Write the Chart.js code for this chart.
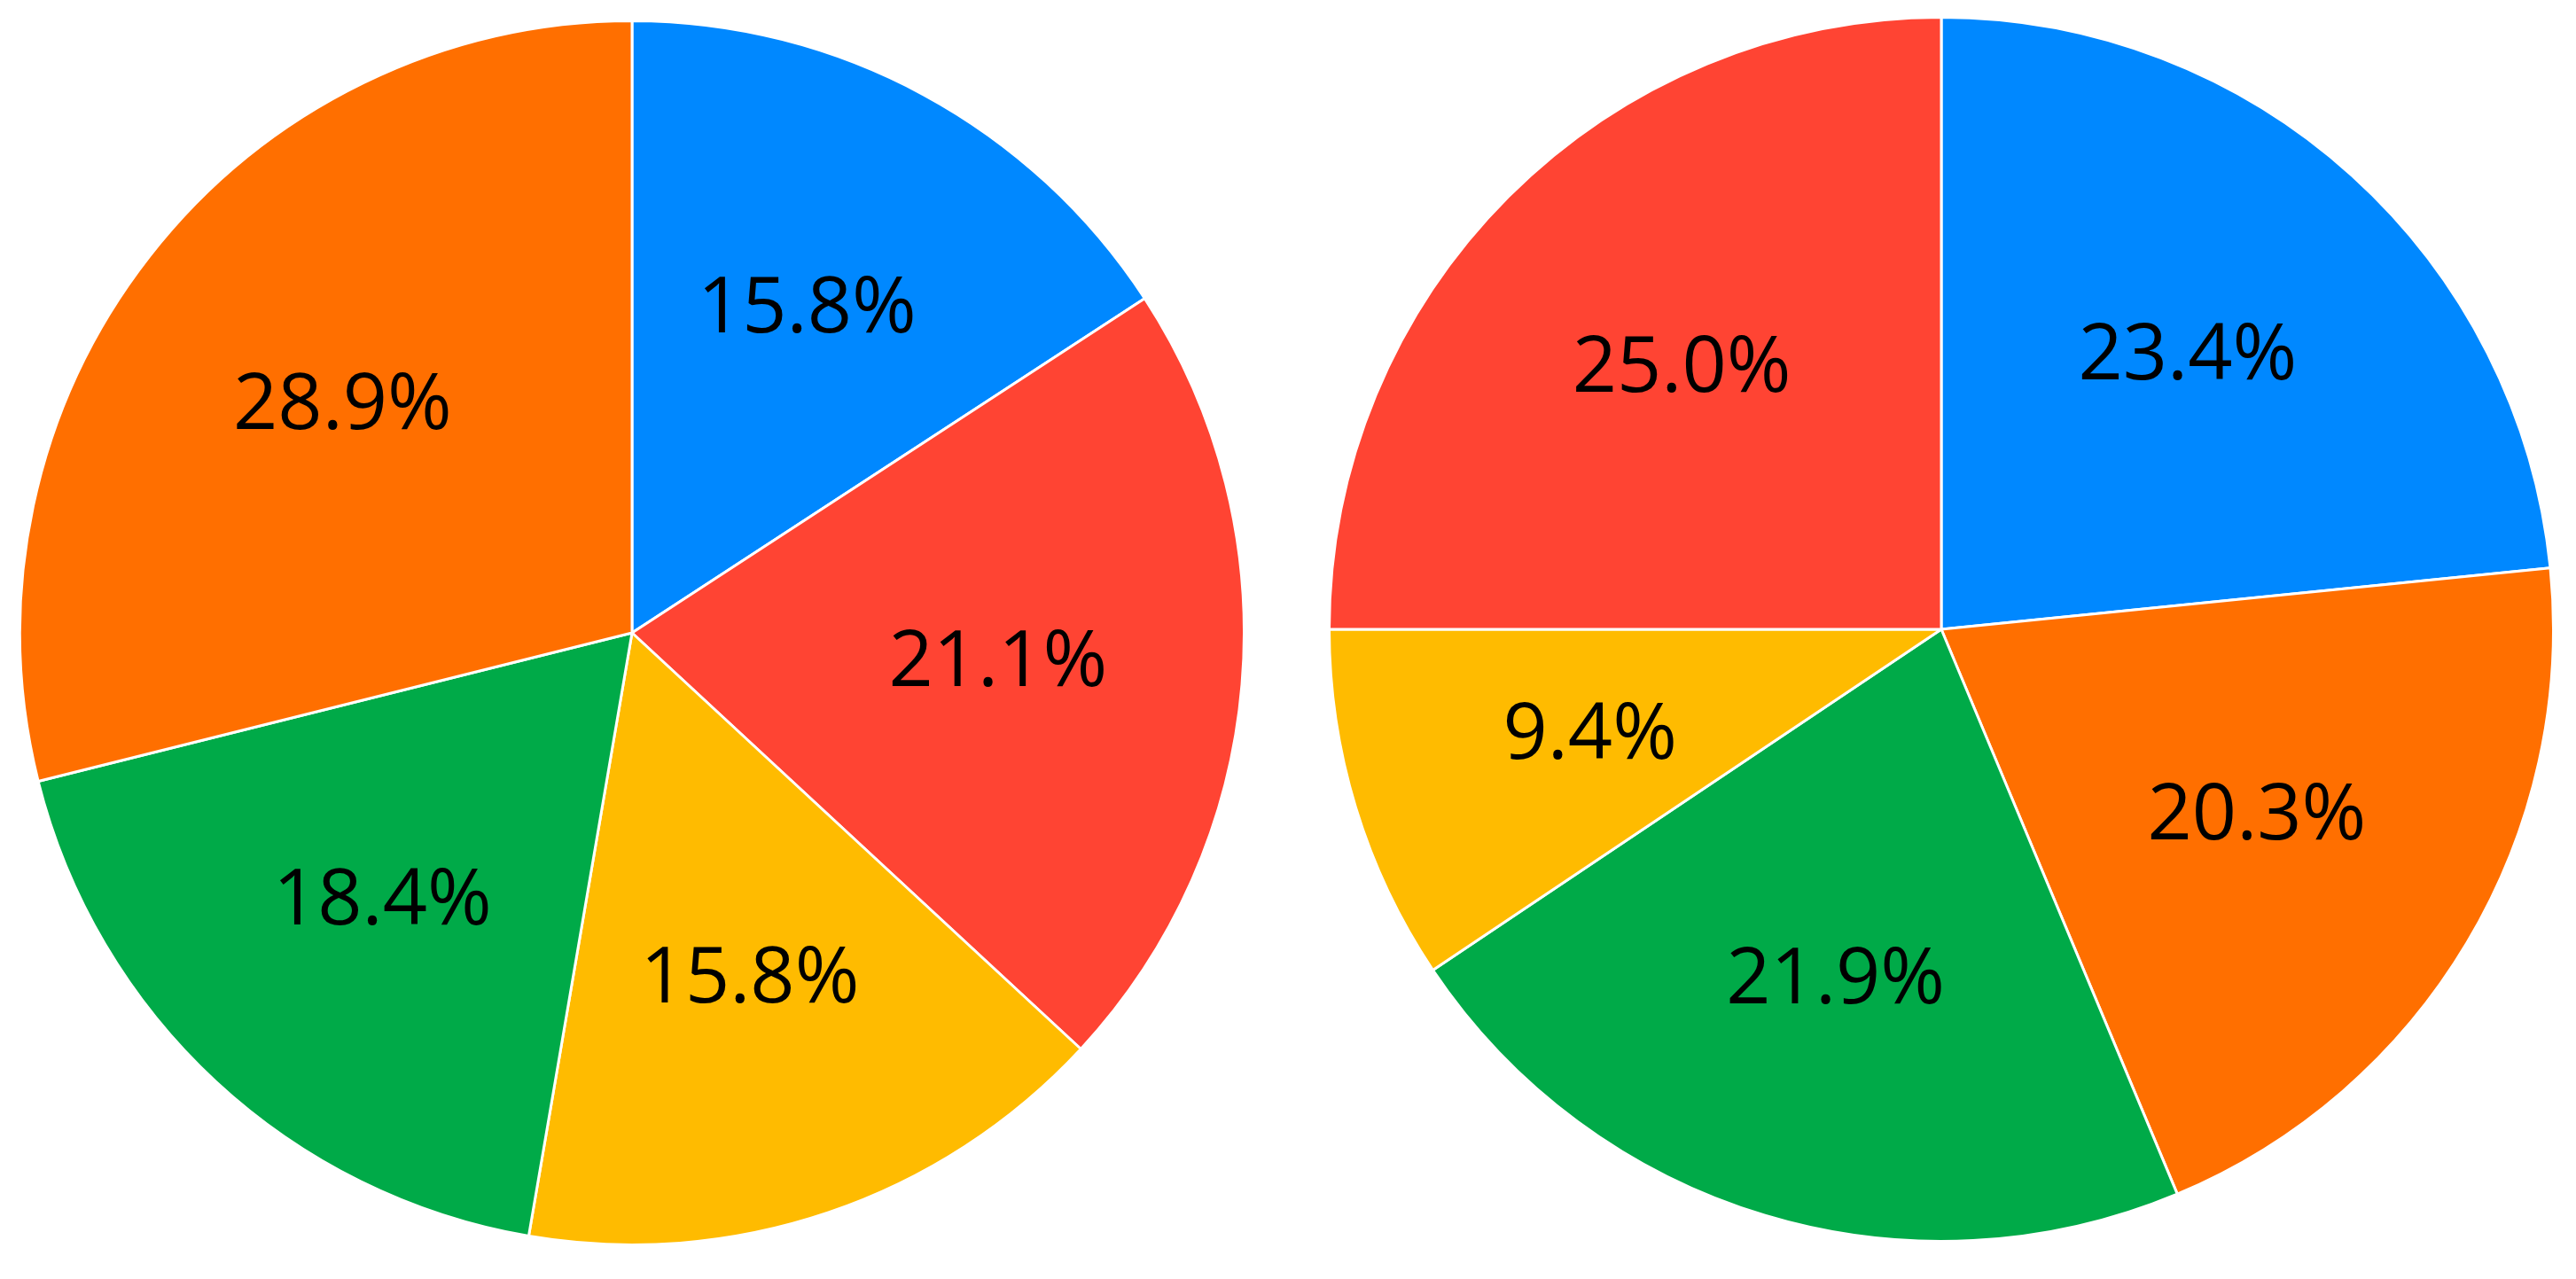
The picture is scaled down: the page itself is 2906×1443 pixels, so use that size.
<!DOCTYPE html>
<html>
<head>
<meta charset="utf-8">
<script src="https://cdn.jsdelivr.net/npm/chart.js@4"></script>
<style>
  body { margin: 0; background: #fff; width: 2906px; height: 1443px; overflow: hidden; }
  .pie { position: absolute; width: 1384px; height: 1384px; }
  #left { left: 21px; top: 22px; }
  #right { left: 1498px; top: 18px; }
</style>
</head>
<body>
<div class="pie" id="left"><canvas id="c1"></canvas></div>
<div class="pie" id="right"><canvas id="c2"></canvas></div>
<script>
const leftLabels = ['Blue', 'Red', 'Yellow', 'Green', 'Orange'];
const leftValues = [15.8, 21.1, 15.8, 18.4, 28.9];
const leftColors = ['#0088FF', '#FF4433', '#FFBB00', '#00AA48', '#FF6F00'];

const rightLabels = ['Blue', 'Orange', 'Green', 'Yellow', 'Red'];
const rightValues = [23.4, 20.3, 21.9, 9.4, 25.0];
const rightColors = ['#0088FF', '#FF6F00', '#00AA48', '#FFBB00', '#FF4433'];

const sliceLabels = {
    id: 'sliceLabels',
    afterDatasetsDraw(chart) {
        const ctx = chart.ctx;
        const meta = chart.getDatasetMeta(0);
        const values = chart.data.datasets[0].data;
        ctx.save();
        ctx.font = '88px "Open Sans", "Noto Sans", sans-serif';
        ctx.fillStyle = '#000';
        ctx.textAlign = 'center';
        ctx.textBaseline = 'middle';
        meta.data.forEach((arc, i) => {
            const mid = (arc.startAngle + arc.endAngle) / 2;
            const r = arc.outerRadius * 0.6;
            ctx.fillText(values[i].toFixed(1) + '%', arc.x + Math.cos(mid) * r, arc.y + Math.sin(mid) * r);
        });
        ctx.restore();
    }
};

const makePie = (id, labels, values, colors) => new Chart(document.getElementById(id), {
    type: 'pie',
    data: {
        labels: labels,
        datasets: [{
            data: values,
            backgroundColor: colors,
            borderColor: '#ffffff',
            borderWidth: 3
        }]
    },
    options: {
        responsive: true,
        maintainAspectRatio: false,
        animation: false,
        layout: { padding: 0 },
        plugins: {
            legend: { display: false },
            tooltip: { enabled: false }
        }
    },
    plugins: [sliceLabels]
});

makePie('c1', leftLabels, leftValues, leftColors);
makePie('c2', rightLabels, rightValues, rightColors);
</script>
</body>
</html>
